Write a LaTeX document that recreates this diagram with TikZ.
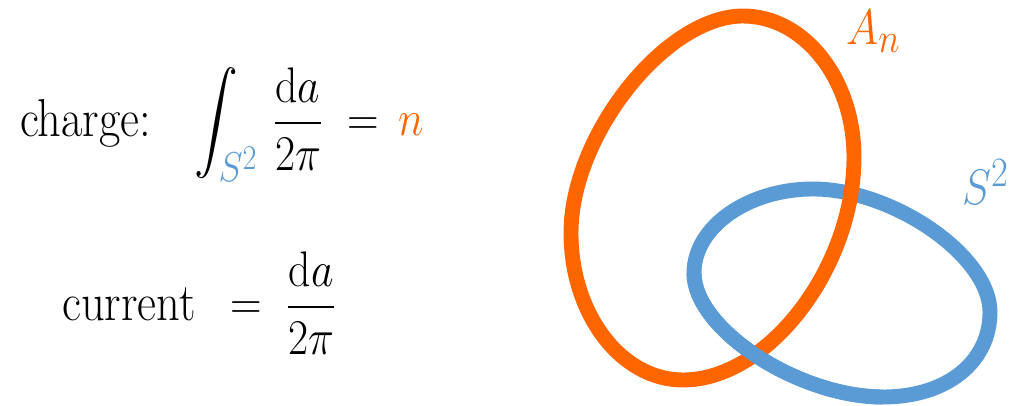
\documentclass[tikz,border=0pt]{standalone}
\usepackage{graphicx,xcolor}
\usepackage{amsmath, amssymb}
\usepackage{tikz}

\newcommand{\tall}[1]{\scalebox{1}[1.15]{#1}}
\newcommand{\mtall}[1]{\scalebox{1.25}[1.43]{#1}}

\begin{document}
\begin{tikzpicture}[x=0.025cm, y=-0.025cm,
        txt/.style={inner sep=0pt, anchor=base west, font=\fontsize{33}{40}\selectfont},
        eqn/.style={inner sep=0pt, anchor=base west, font=\fontsize{24.88}{30}\selectfont},
        loop/.style={line width=10.6pt}]
        \definecolor{linkorange}{RGB}{255,102,0}
        \definecolor{linkblue}{RGB}{91,155,213}
        \useasboundingbox (0,0) rectangle (1015,406);

        % Coordinates
        \coordinate (Q) at (20,137);
        \coordinate (QE) at (194,136);
        \coordinate (C) at (62,321);
        \coordinate (CE) at (230,320);
        \coordinate (AL) at (846,45);
        \coordinate (SL) at (962,205);
        % orange loop: top, right, bottom, left
        \coordinate (OT) at (743,16);
        \coordinate (OR) at (854,157);
        \coordinate (OB) at (683,380);
        \coordinate (OL) at (571,233);
        % blue loop: top, right, bottom, left
        \coordinate (BT) at (813,189);
        \coordinate (BR) at (990,312);
        \coordinate (BB) at (883,397);
        \coordinate (BL) at (694,273);

        % Text
        \node[txt] (charge) at (Q) {\tall{charge:}};
        \node[eqn] (chargeeq) at (QE) {\mtall{$\displaystyle \int_{\textcolor{linkblue}{S^2}}\,\frac{\mathrm{d}a}{2\pi}\;=\,\textcolor{linkorange}{n}$}};
        \node[txt] (current) at (C) {\tall{current}};
        \node[eqn] (currenteq) at (CE) {\mtall{$\displaystyle =\;\frac{\mathrm{d}a}{2\pi}$}};

        % Drawing
        \draw[loop, linkblue] (BT) .. controls (893,189) and (990,256) .. (BR)
            .. controls (990,362) and (947,397) .. (BB)
            .. controls (798,397) and (694,329) .. (BL)
            .. controls (694,227) and (748,189) .. (BT) -- cycle;
        \draw[loop, linkorange] (OT) .. controls (804,16) and (854,79) .. (OR)
            .. controls (854,268) and (768,380) .. (OB)
            .. controls (621,380) and (571,314) .. (OL)
            .. controls (571,135) and (666,16) .. (OT) -- cycle;
        \draw[loop, linkblue] (BB) .. controls (798,397) and (694,329) .. (BL);
        \node[eqn, text=linkorange] (An) at (AL) {\mtall{$A_n$}};
        \node[eqn, text=linkblue] (S2) at (SL) {\mtall{$S^2$}};
    \end{tikzpicture}
\end{document}
